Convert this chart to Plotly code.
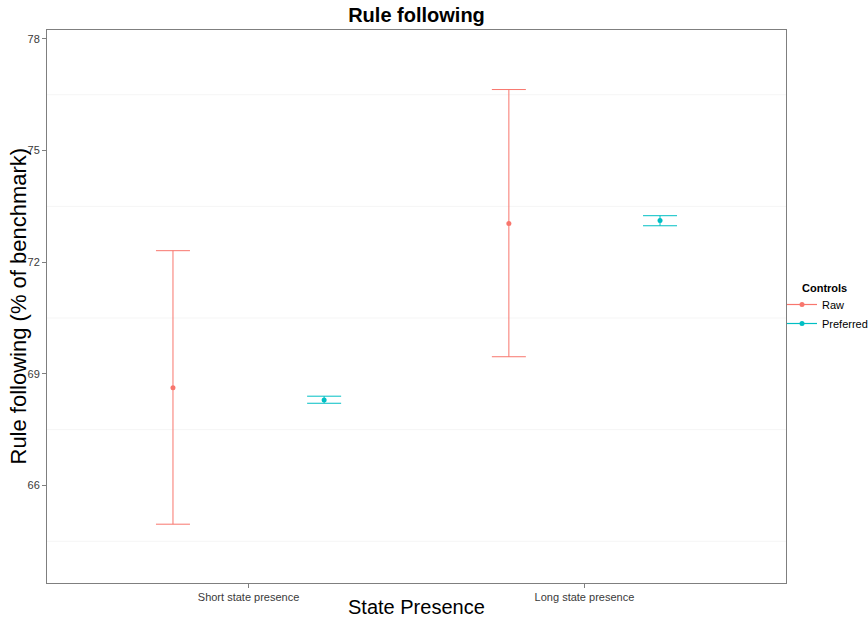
import plotly.graph_objects as go

categories = ["Short state presence", "Long state presence"]
controls = ["Raw", "Preferred"]
colors = {"Raw": "#F8766D", "Preferred": "#00BFC4"}

raw_mean = [68.63, 73.04]
raw_low = [64.96, 69.46]
raw_high = [72.31, 76.64]

pref_mean = [68.30, 73.12]
pref_low = [68.21, 72.98]
pref_high = [68.40, 73.25]

series = {
    "Raw": (raw_mean, raw_low, raw_high),
    "Preferred": (pref_mean, pref_low, pref_high),
}
dodge = {"Raw": -0.225, "Preferred": 0.225}

fig = go.Figure()
cat_idx = list(range(1, len(categories) + 1))
for name in controls:
    m, lo, hi = series[name]
    xs = [c + dodge[name] for c in cat_idx]
    fig.add_trace(go.Scatter(
        x=xs, y=m, mode="markers", showlegend=False,
        marker=dict(color=colors[name], size=5),
        error_y=dict(type="data", symmetric=False,
                     array=[h - v for h, v in zip(hi, m)],
                     arrayminus=[v - l for v, l in zip(m, lo)],
                     color=colors[name], thickness=1, width=17),
    ))
    fig.add_trace(go.Scatter(
        x=[None], y=[None], mode="lines+markers", name=name,
        line=dict(color=colors[name], width=1.2),
        marker=dict(color=colors[name], size=5),
    ))

minor_vals = [64.5, 67.5, 70.5, 73.5, 76.5]
for v in minor_vals:
    fig.add_shape(type="line", xref="paper", x0=0, x1=1, yref="y", y0=v, y1=v,
                  line=dict(color="#f5f5f5", width=1), layer="below")

fig.add_annotation(text="<b>Controls</b>", xref="paper", yref="paper",
                   x=(800 - 47) / 739, y=(583 - 288) / 553, xanchor="left", yanchor="middle",
                   showarrow=False, font=dict(size=11, color="black"))
fig.add_annotation(text="Rule following (% of benchmark)", xref="paper", yref="paper",
                   x=(18 - 47) / 739, y=0.5, xanchor="center", yanchor="middle",
                   textangle=-90, showarrow=False, font=dict(size=22, color="black"))
fig.add_annotation(text="State Presence", xref="paper", yref="paper",
                   x=0.5, y=(583 - 607) / 553, xanchor="center", yanchor="middle",
                   showarrow=False, font=dict(size=20, color="black"))

fig.update_layout(
    width=868, height=621,
    margin=dict(l=47, r=82, t=30, b=38, autoexpand=False),
    paper_bgcolor="white", plot_bgcolor="white",
    font=dict(family="Liberation Sans, Arial, sans-serif", color="black"),
    title=dict(text="<b>Rule following</b>", x=(47 + 786) / 2 / 868, xanchor="center",
               y=1 - 15 / 621, yanchor="middle", font=dict(size=20, color="black")),
    xaxis=dict(range=[0.4, 2.6], tickvals=cat_idx, ticktext=categories,
               showgrid=False, zeroline=False, showline=True, mirror=True,
               automargin=False,
               linecolor="#7f7f7f", linewidth=1, ticks="outside", ticklen=4,
               tickcolor="#7f7f7f", tickfont=dict(size=11, color="#3a3a3a")),
    yaxis=dict(range=[63.38, 78.24], tickvals=[66, 69, 72, 75, 78],
               showgrid=False, zeroline=False, showline=True, mirror=True,
               automargin=False,
               linecolor="#7f7f7f", linewidth=1, ticks="outside", ticklen=4,
               tickcolor="#7f7f7f", tickfont=dict(size=11, color="#3a3a3a")),
    legend=dict(x=(782 - 47) / 739, xanchor="left", y=(583 - 290) / 553, yanchor="top",
                font=dict(size=11), bgcolor="rgba(0,0,0,0)", tracegroupgap=0,
                itemwidth=30),
)

fig.write_html("out.html", config={"displayModeBar": False},
               post_script="document.body.style.margin='0';")
